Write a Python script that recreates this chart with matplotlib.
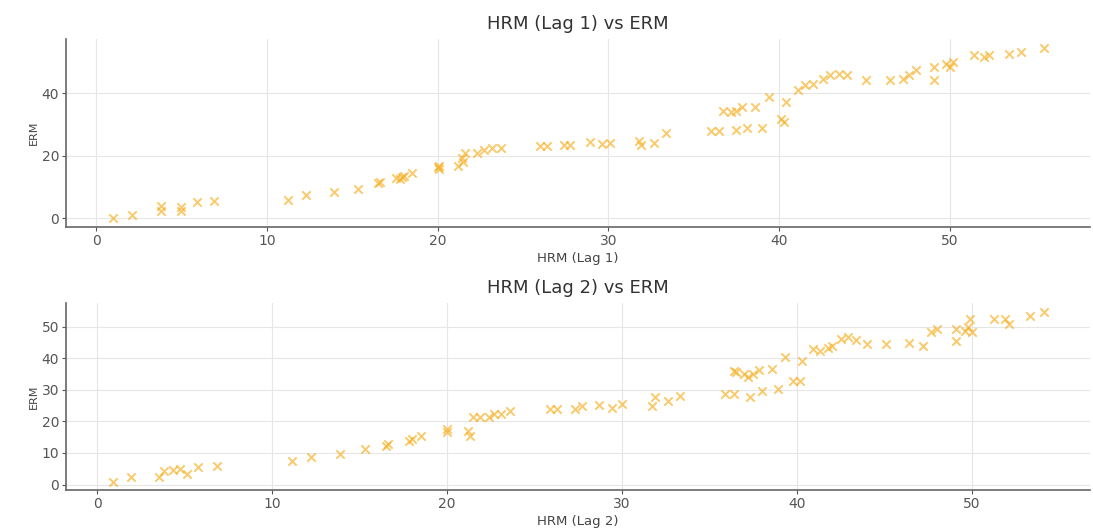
import matplotlib
matplotlib.use("Agg")
import matplotlib.pyplot as plt

# HRM (Lag 1) vs ERM
lag1_hrm = [0.95, 2.06, 3.8, 3.8, 4.95, 4.95, 5.9, 6.9, 11.2, 12.3, 13.95, 15.35,
            16.5, 16.6, 17.55, 17.9, 18.5, 20.07, 20.07, 21.2, 21.4, 21.6, 22.3, 22.7,
            23.2, 23.7, 26.0, 26.4, 27.4, 27.75, 28.9, 29.6, 30.1, 31.8, 31.9, 32.7,
            33.4, 36.0, 36.5, 36.7, 37.2, 37.5, 37.8, 38.6, 37.5, 38.1, 39.0, 39.4,
            40.1, 40.3, 40.4, 41.1, 41.5, 42.0, 42.6, 43.0, 43.5, 44.0, 45.1, 46.5,
            47.25, 47.6, 48.0, 49.1, 49.1, 49.8, 50.0, 50.2, 51.4, 52.0, 52.3, 53.5,
            54.2, 55.5, 17.8, 18.0, 20.0, 21.5]
lag1_erm = [0.0, 1.2, 3.9, 2.3, 3.7, 2.4, 5.3, 5.5, 5.8, 7.4, 8.4, 9.5,
            11.4, 11.8, 13.0, 13.3, 14.6, 16.8, 15.8, 16.8, 19.5, 21.0, 21.0, 22.0,
            22.7, 22.7, 23.2, 23.2, 23.5, 23.5, 24.5, 23.9, 24.2, 24.7, 23.5, 24.0,
            27.5, 28.0, 28.0, 34.5, 34.0, 34.5, 35.6, 35.6, 28.3, 29.1, 28.9, 38.8,
            31.8, 30.8, 37.2, 41.0, 42.6, 43.1, 44.7, 45.8, 46.3, 45.8, 44.4, 44.4,
            44.7, 45.8, 47.4, 44.4, 48.4, 49.6, 48.5, 50.1, 52.3, 51.7, 52.3, 52.8,
            53.3, 54.7, 12.5, 13.5, 16.5, 18.0]

# HRM (Lag 2) vs ERM
lag2_hrm = [0.87, 1.95, 3.5, 3.8, 4.3, 4.75, 5.1, 5.76, 6.84, 11.1, 12.2, 13.85,
            15.3, 16.5, 16.6, 17.8, 18.0, 18.5, 20.0, 20.0, 21.2, 21.3, 21.5, 21.9,
            22.4, 22.65, 23.1, 23.6, 25.9, 26.3, 27.3, 27.7, 28.7, 29.4, 30.0, 31.7,
            31.9, 32.6, 33.3, 35.9, 36.4, 36.4, 36.5, 36.95, 37.2, 37.5, 37.8, 38.6,
            37.3, 38.0, 38.9, 39.3, 39.8, 40.2, 40.3, 40.9, 41.3, 41.8, 42.0, 42.5,
            42.9, 43.4, 44.0, 45.1, 46.4, 47.2, 47.65, 48.0, 49.1, 49.1, 49.6, 49.8,
            49.9, 50.0, 51.25, 51.9, 52.1, 53.3, 54.1]
lag2_erm = [0.95, 2.3, 2.5, 4.4, 4.7, 5.0, 3.4, 5.7, 6.0, 7.3, 8.6, 9.7,
            11.3, 12.1, 12.9, 13.7, 14.5, 15.5, 17.6, 16.6, 17.1, 15.5, 21.3, 21.3,
            21.3, 22.4, 22.4, 23.4, 24.0, 24.0, 24.0, 25.0, 25.3, 24.3, 25.5, 25.0,
            27.6, 26.6, 28.2, 28.7, 28.7, 36.0, 35.5, 35.0, 34.0, 35.0, 36.3, 36.6,
            27.8, 29.5, 30.3, 40.3, 32.9, 32.9, 39.2, 42.9, 42.4, 43.4, 44.0, 46.1,
            46.6, 45.8, 44.5, 44.5, 44.7, 44.0, 48.2, 49.3, 45.6, 49.3, 48.7, 49.8,
            52.4, 48.2, 52.4, 52.4, 50.8, 53.5, 54.8]

panels = [
    (lag1_hrm, lag1_erm, "HRM (Lag 1)", "HRM (Lag 1) vs ERM", [0, 20, 40]),
    (lag2_hrm, lag2_erm, "HRM (Lag 2)", "HRM (Lag 2) vs ERM", [0, 10, 20, 30, 40, 50]),
]

fig = plt.figure(figsize=(10.93, 5.31), dpi=100)
axes = [fig.add_axes([0.0604, 0.5725, 0.937, 0.354]),
        fig.add_axes([0.0604, 0.0772, 0.937, 0.352])]

for axis, (x, y, xlabel, title, yticks) in zip(axes, panels):
    axis.scatter(x, y, marker="x", color="#F6AE1E", alpha=0.65, s=36, linewidths=1.4)
    axis.set_title(title, fontsize=13, color="#333333", pad=7)
    axis.set_xlabel(xlabel, fontsize=9.5, color="#444444", labelpad=3)
    axis.set_ylabel("ERM", fontsize=8, color="#444444", labelpad=2)
    axis.set_xticks([0, 10, 20, 30, 40, 50])
    axis.set_yticks(yticks)
    axis.grid(True, color="#e6e6e6", linewidth=0.8)
    axis.set_axisbelow(True)
    for side in ("top", "right"):
        axis.spines[side].set_visible(False)
    for side in ("left", "bottom"):
        axis.spines[side].set_color("#666666")
        axis.spines[side].set_linewidth(1.2)
    axis.tick_params(labelsize=10, colors="#555555", length=3, pad=2)

fig.savefig("out.png", dpi=100)
